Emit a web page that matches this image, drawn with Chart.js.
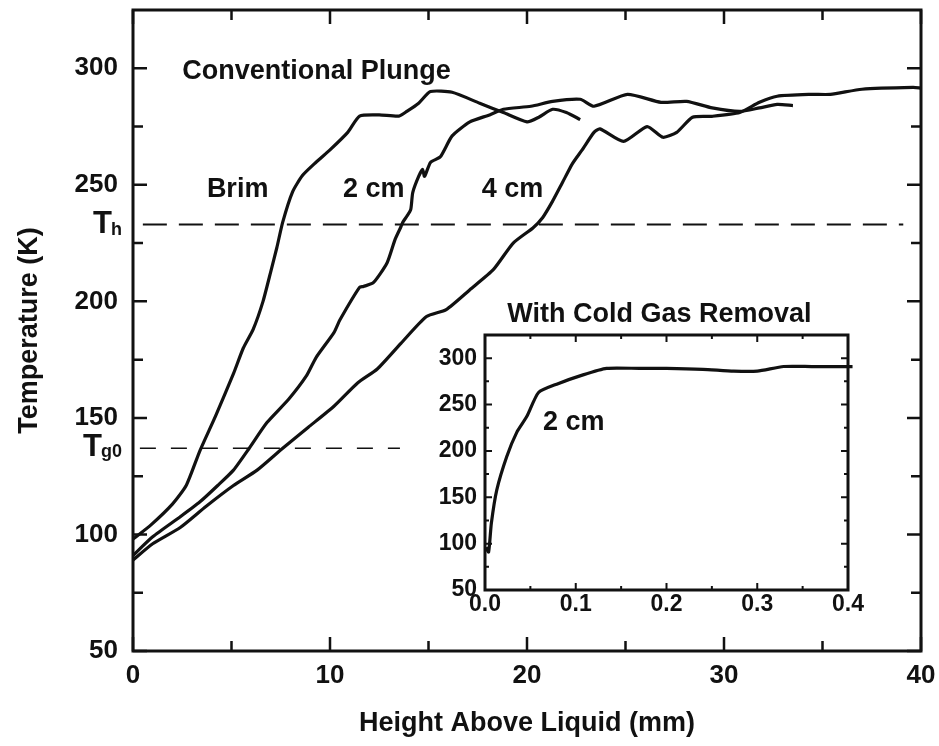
<!DOCTYPE html>
<html>
<head>
<meta charset="utf-8">
<script src="https://cdn.jsdelivr.net/npm/chart.js@4"></script>
<style>
  body { margin: 0; background: #fff; }
  #wrap { position: relative; width: 939px; height: 746px; }
  #main { position: absolute; left: 0; top: 0; }
  #inset { position: absolute; left: 420px; top: 330px; }
</style>
</head>
<body>
<div id="wrap">
  <canvas id="main" width="939" height="746"></canvas>
  <canvas id="inset" width="450" height="300"></canvas>
</div>
<script>
const ink = "#111";
const family = "'Liberation Sans', Arial, Helvetica, sans-serif";

// conventional plunge, height above liquid (mm) -> temperature (K)
const brimX = [0, 0.9, 2.0, 2.7, 3.4, 4.2, 5.1, 5.6, 6.1, 6.6, 7.0, 7.3, 7.6, 8.1, 8.6, 9.2, 10.0, 10.9, 11.5, 12.5, 13.5, 13.9, 14.5, 15.1, 16.2, 17.6, 18.8, 20.0, 20.6, 21.3, 22.0, 22.7];
const brimY = [98, 104, 113, 121, 136, 151, 169, 180, 188, 200, 213, 223, 234, 247, 254, 259, 265, 272.5, 279.5, 280, 279.5, 281.5, 285, 290, 289.7, 285, 281, 277, 279, 282.4, 281, 278];

const cm2X = [0, 1.0, 2.4, 3.4, 4.3, 5.1, 5.9, 6.8, 7.9, 8.8, 9.3, 10.2, 10.5, 11.5, 11.7, 12.2, 12.9, 13.3, 13.6, 13.7, 13.9, 14.1, 14.2, 14.5, 14.7, 14.8, 15.1, 15.6, 16.2, 17.1, 18.1, 18.8, 20.2, 21.3, 22.7, 23.4, 25.1, 26.8, 28.1, 29.4, 30.8, 31.8, 32.7, 33.5];
const cm2Y = [91, 99, 107.6, 114, 121, 127.6, 137, 148, 158, 168, 176, 186.6, 192, 206, 206.4, 208, 216.6, 226.5, 232, 234, 236.5, 239.5, 246.7, 253.6, 256.6, 253.6, 259.6, 262, 271, 277, 280, 282.4, 283.7, 285.8, 286.7, 283.7, 288.8, 285.4, 285.8, 283, 281.5, 283, 284.5, 284];

const cm4X = [0, 1.0, 2.4, 3.7, 5.1, 6.3, 7.6, 8.9, 10.2, 11.4, 12.4, 13.6, 14.9, 15.9, 17.1, 18.3, 19.3, 20.3, 20.8, 21.3, 21.8, 22.3, 22.8, 23.4, 23.7, 24.9, 26.1, 26.9, 27.6, 28.4, 29.4, 30.8, 31.8, 32.7, 34.4, 35.4, 37.0, 39.6, 40];
const cm4Y = [89, 96, 103, 112, 121, 127.6, 137, 146, 155, 165, 171, 182, 193.5, 196.5, 205, 213.7, 225, 231.5, 236, 243, 251, 259, 265, 272.5, 274, 268.6, 275, 270.4, 272.5, 279, 279.4, 281, 285.4, 288, 288.8, 288.8, 291, 291.8, 291.5];

// reference levels T_h and T_g0 (dashed)
const hotX = [0.5, 39.1];
const hotY = [233, 233];
const gasX = [0.35, 13.55];
const gasY = [137, 137];

// inset: with cold gas removal, 2 cm
const insetX = [0.001, 0.004, 0.007, 0.013, 0.024, 0.035, 0.046, 0.059, 0.079, 0.108, 0.134, 0.17, 0.2, 0.24, 0.274, 0.3, 0.329, 0.36, 0.405];
const insetY = [96, 91, 122, 158, 194, 220, 237, 263, 272, 282, 289, 289, 289, 288, 286, 286, 291, 291, 291];

const mainXTicks = [0, 10, 20, 30, 40];
const mainXMinor = [5, 15, 25, 35];
const mainYTicks = [50, 100, 150, 200, 250, 300];
const mainYMinor = [75, 125, 175, 225, 275];

const insetXTicks = [0, 0.1, 0.2, 0.3, 0.4];
const insetXMinor = [0.05, 0.15, 0.25, 0.35];
const insetYTicks = [50, 100, 150, 200, 250, 300];
const insetYMinor = [75, 125, 175, 225, 275];

function pts(xs, ys) {
  return xs.map((x, i) => ({ x: x, y: ys[i] }));
}

function curve(xs, ys) {
  return { data: pts(xs, ys), showLine: true, borderColor: ink, borderWidth: 3.2,
           pointRadius: 0, tension: 0.2, fill: false };
}

function dashed(xs, ys, dash, width) {
  return { data: pts(xs, ys), showLine: true, borderColor: ink, borderWidth: width,
           borderDash: dash, pointRadius: 0, fill: false };
}

// box round the plot plus ticks pointing inward on all four sides
const frameTicks = {
  id: "frameTicks",
  afterDatasetsDraw(chart, args, o) {
    const { ctx, chartArea: a, scales } = chart;
    const x = scales.x, y = scales.y;
    ctx.save();
    ctx.strokeStyle = ink;
    ctx.lineWidth = o.tickWidth;
    ctx.beginPath();
    const xt = (list, len) => list.forEach(v => {
      const px = x.getPixelForValue(v);
      ctx.moveTo(px, a.bottom); ctx.lineTo(px, a.bottom - len);
      ctx.moveTo(px, a.top); ctx.lineTo(px, a.top + len);
    });
    const yt = (list, len) => list.forEach(v => {
      const py = y.getPixelForValue(v);
      ctx.moveTo(a.left, py); ctx.lineTo(a.left + len, py);
      ctx.moveTo(a.right, py); ctx.lineTo(a.right - len, py);
    });
    xt(o.xMajor, o.major); xt(o.xMinor, o.minor);
    yt(o.yMajor, o.major); yt(o.yMinor, o.minor);
    ctx.stroke();
    ctx.lineWidth = o.width;
    ctx.strokeRect(a.left, a.top, a.right - a.left, a.bottom - a.top);
    ctx.restore();
  }
};

// free text in data coordinates, plus the T_h / T_g0 labels at the axis
const notes = {
  id: "notes",
  afterDraw(chart, args, o) {
    const { ctx, chartArea: a, scales } = chart;
    ctx.save();
    ctx.fillStyle = ink;
    ctx.textBaseline = "alphabetic";
    ctx.textAlign = "left";
    (o.texts || []).forEach(t => {
      ctx.font = "bold " + t.size + "px " + family;
      ctx.fillText(t.text, scales.x.getPixelForValue(t.x), scales.y.getPixelForValue(t.y));
    });
    (o.levels || []).forEach(l => {
      const py = scales.y.getPixelForValue(l.value);
      ctx.font = "bold 18px " + family;
      const sw = ctx.measureText(l.sub).width;
      const right = a.left - 11;
      ctx.fillText(l.sub, right - sw, py + l.subDy);
      ctx.font = "bold 31px " + family;
      const tw = ctx.measureText("T").width;
      ctx.fillText("T", right - sw - tw + 1, py + l.dy);
    });
    ctx.restore();
  }
};

Chart.register(frameTicks, notes);

function axis(min, max, ticks, size, pad, fmt) {
  return {
    type: "linear", min: min, max: max,
    grid: { display: false, drawTicks: false },
    border: { display: false },
    afterBuildTicks: s => { s.ticks = ticks.map(v => ({ value: v })); },
    ticks: { color: ink, padding: pad, maxRotation: 0, autoSkip: false,
             font: { family: family, size: size, weight: "bold" },
             callback: fmt || (v => String(v)) }
  };
}

// fixed axis boxes so the plot area lands where the original has it
function fixX(h) {
  return s => { s.height = h; s.paddingLeft = 0; s.paddingRight = 0; };
}
function fixY(w) {
  return s => { s.width = w; s.paddingTop = 0; s.paddingBottom = 0; };
}

const mainX = axis(0, 40, mainXTicks, 26, 9);
mainX.afterFit = fixX(95);
mainX.title = { display: true, text: "Height Above Liquid (mm)", color: ink,
                font: { family: family, size: 27, weight: "bold" }, padding: { top: 0, bottom: 6 } };

const mainY = axis(50, 325, mainYTicks, 26, 15);
mainY.afterFit = fixY(133);
mainY.title = { display: true, text: "Temperature (K)", color: ink,
                font: { family: family, size: 27, weight: "bold" }, padding: { top: 13, bottom: 0 } };

new Chart(document.getElementById("main"), {
  type: "scatter",
  data: {
    datasets: [
      curve(brimX, brimY),
      curve(cm2X, cm2Y),
      curve(cm4X, cm4Y),
      dashed(hotX, hotY, [24, 12], 2),
      dashed(gasX, gasY, [16, 15], 1.5)
    ]
  },
  options: {
    responsive: false,
    devicePixelRatio: 1,
    animation: false,
    layout: { padding: { left: 0, right: 18, top: 10, bottom: 0 } },
    scales: { x: mainX, y: mainY },
    plugins: {
      legend: { display: false },
      tooltip: { enabled: false },
      frameTicks: { width: 3, tickWidth: 2.5, major: 14, minor: 10,
                    xMajor: mainXTicks, xMinor: mainXMinor, yMajor: mainYTicks, yMinor: mainYMinor },
      notes: {
        texts: [
          { text: "Conventional Plunge", x: 2.5, y: 295.3, size: 27 },
          { text: "Brim", x: 3.75, y: 244.6, size: 27 },
          { text: "2 cm", x: 10.66, y: 244.6, size: 27 },
          { text: "4 cm", x: 17.7, y: 244.6, size: 27 },
          { text: "With Cold Gas Removal", x: 19.0, y: 191.3, size: 27 }
        ],
        levels: [
          { value: 233, sub: "h", dy: 9, subDy: 11 },
          { value: 137, sub: "g0", dy: 8, subDy: 9 }
        ]
      }
    }
  }
});

const inX = axis(0, 0.4, insetXTicks, 23, 1, v => v.toFixed(1));
inX.afterFit = fixX(40);
const inY = axis(50, 325, insetYTicks, 23, 8);
inY.afterFit = fixY(65);

const insetLine = curve(insetX, insetY);
insetLine.clip = false;

new Chart(document.getElementById("inset"), {
  type: "scatter",
  data: { datasets: [insetLine] },
  options: {
    responsive: false,
    devicePixelRatio: 1,
    animation: false,
    layout: { padding: { left: 0, right: 22, top: 5, bottom: 0 } },
    scales: { x: inX, y: inY },
    plugins: {
      legend: { display: false },
      tooltip: { enabled: false },
      frameTicks: { width: 3, tickWidth: 2, major: 7, minor: 4,
                    xMajor: insetXTicks, xMinor: insetXMinor, yMajor: insetYTicks, yMinor: insetYMinor },
      notes: { texts: [ { text: "2 cm", x: 0.064, y: 223, size: 27 } ] }
    }
  }
});
</script>
</body>
</html>
